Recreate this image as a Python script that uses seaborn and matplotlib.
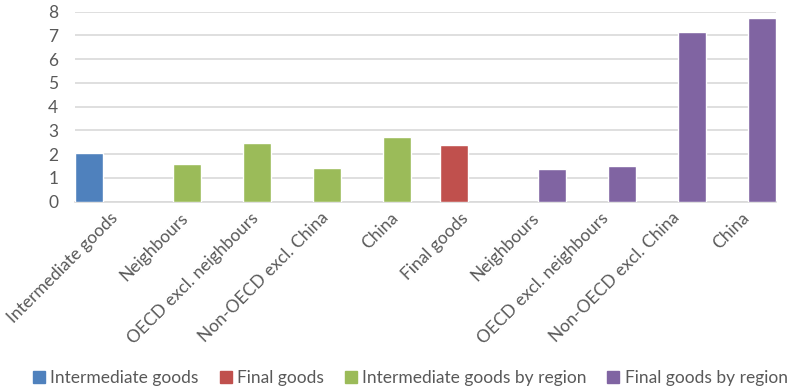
import matplotlib
matplotlib.use("Agg")
import matplotlib.pyplot as plt
from matplotlib.lines import Line2D
import seaborn as sns
import pandas as pd

categories = ["Intermediate goods", "Neighbours", "OECD excl. neighbours",
              "Non-OECD excl. China", "China", "Final goods", "Neighbours",
              "OECD excl. neighbours", "Non-OECD excl. China", "China"]
values = [2.03, 1.60, 2.47, 1.43, 2.70, 2.36, 1.37, 1.51, 7.14, 7.72]
series = ["Intermediate goods", "Intermediate goods by region",
          "Intermediate goods by region", "Intermediate goods by region",
          "Intermediate goods by region", "Final goods", "Final goods by region",
          "Final goods by region", "Final goods by region", "Final goods by region"]
series_order = ["Intermediate goods", "Final goods",
                "Intermediate goods by region", "Final goods by region"]
colors = ["#4F81BD", "#C0504D", "#9BBB59", "#8064A2"]
yticks = [0, 1, 2, 3, 4, 5, 6, 7, 8]

sns.set_style("white")
plt.rcParams["font.family"] = ["Lato", "DejaVu Sans"]

df = pd.DataFrame({"pos": list(range(len(categories))), "value": values, "series": series})

fig = plt.figure(figsize=(8.0, 3.91), dpi=100)
ax = fig.add_axes([75 / 800, 1 - 201.5 / 391, (776 - 75) / 800, (201.5 - 11.5) / 391])

sns.barplot(data=df, x="pos", y="value", hue="series", hue_order=series_order,
            palette=colors, dodge=True, width=0.8, errorbar=None, legend=False,
            saturation=1, ax=ax, zorder=3)

for p in ax.patches:
    c = p.get_x() + p.get_width() / 2
    p.set_width(0.4)
    p.set_x(c - 0.2)

ax.set_xlim(-0.5, len(categories) - 0.5)
ax.set_ylim(0, 8)
ax.set_yticks(yticks)
ax.set_yticklabels([str(t) for t in yticks])
ax.set_xticks(range(len(categories)))
ax.set_xticklabels(categories, rotation=45, ha="right", rotation_mode="anchor")
ax.set_xlabel("")
ax.set_ylabel("")
ax.yaxis.grid(True, color="#D9D9D9", linewidth=1.2, zorder=0)
ax.set_axisbelow(True)
for s in ["top", "right", "left"]:
    ax.spines[s].set_visible(False)
ax.spines["bottom"].set_color("#D9D9D9")
ax.spines["bottom"].set_linewidth(1.2)
ax.tick_params(axis="y", length=0, pad=12, labelsize=12.5, labelcolor="#595959")
ax.tick_params(axis="x", length=0, pad=6, labelsize=12.5, labelcolor="#595959")

handles = [Line2D([0], [0], marker="s", color="none", markerfacecolor=c,
                  markeredgecolor=c, markersize=8) for c in colors]
fig.legend(handles, series_order, loc="center", bbox_to_anchor=(0.513, 1 - 378 / 391),
           ncol=4, frameon=False, fontsize=12.5, handlelength=0.7, handletextpad=0.3,
           columnspacing=1.2, labelcolor="#595959")

fig.savefig("out.png", dpi=100)
